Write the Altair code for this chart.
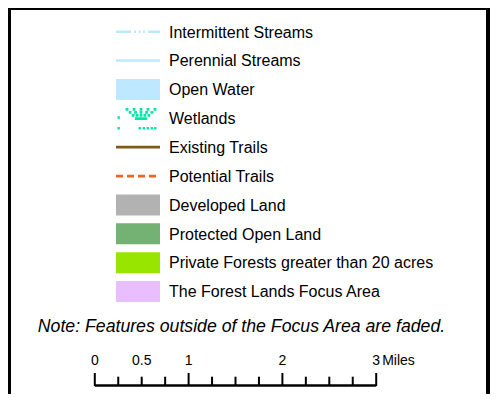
import altair as alt
import pandas as pd

# ---- data ----
labels = [
    "Intermittent Streams",
    "Perennial Streams",
    "Open Water",
    "Wetlands",
    "Existing Trails",
    "Potential Trails",
    "Developed Land",
    "Protected Open Land",
    "Private Forests greater than 20 acres",
    "The Forest Lands Focus Area",
]
kinds = ["dashdot", "line", "patch", "wetland", "line", "dash",
         "patch", "patch", "patch", "patch"]
colors = ["#BEE8FF", "#BEE8FF", "#BEE8FF", "#00E6A9", "#7F5A17", "#F0641E",
          "#B2B2B2", "#74B274", "#98E600", "#E8BEFF"]
note = "Note: Features outside of the Focus Area are faded."
scale_ticks = [0, 0.25, 0.5, 0.75, 1, 1.25, 1.5, 1.75, 2, 2.25, 2.5, 2.75, 3]
major_ticks = [0, 1, 2, 3]
scale_labels = ["0", "0.5", "1", "2", "3"]
scale_label_pos = [0, 0.5, 1, 2, 3]
unit = "Miles"

FONT = "Liberation Sans, Arial, Helvetica"

df = pd.DataFrame({"label": labels, "kind": kinds, "color": colors})

yscale = alt.Scale(type="point", domain=labels, range=[23.7, 283.5], padding=0)
Y = alt.Y("label:N", scale=yscale, axis=None)
COL = alt.Color("color:N", scale=None, legend=None)

SX0, SX1 = 108, 152   # symbol extent
SCX = 130             # symbol centre
R = 22.0              # half symbol width (custom-shape unit)


def sq(px, py, s=2.8):
    x = px / R
    y = py / R
    d = s / R
    return f"M{x:.3f},{y:.3f}h{d:.3f}v{d:.3f}h{-d:.3f}z"


# patch rectangle shape (44 x 21)
patch_path = "M-1,-0.477H1V0.477H-1Z"

# wetland tuft shape: dotted rays converging to a base point, plus stray dots
wet_parts = []
base = (3.0, 5.0)
tops = [(-11.0, -9.0), (-4.0, -9.0), (3.0, -9.0), (10.0, -9.0), (17.0, -9.0)]
for tx, ty in tops:
    for t in (0.0, 0.22, 0.44, 0.66):
        wet_parts.append(sq(tx + (base[0] - tx) * t - 1.4, ty + (base[1] - ty) * t - 1.4))
for bx in (2.0, 6.0, 10.0, 14.0, 17.5):
    wet_parts.append(sq(bx - 1.4, 8.8, 2.4))
wet_parts.append(sq(-20.5, -2.0, 2.4))
wet_parts.append(sq(-20.5, 8.8, 2.4))
wet_path = "".join(wet_parts)

base_df = alt.Chart(df)

patches = base_df.transform_filter(alt.datum.kind == "patch").mark_point(
    shape=patch_path, filled=True, size=(2 * R) ** 2, opacity=1, strokeWidth=0
).encode(x=alt.value(SCX), y=Y, color=COL)

wetland = base_df.transform_filter(alt.datum.kind == "wetland").mark_point(
    shape=wet_path, filled=True, size=(2 * R) ** 2, opacity=1, strokeWidth=0
).encode(x=alt.value(SCX), y=Y, color=COL)

solid = base_df.transform_filter(alt.datum.kind == "line").mark_rule(
    strokeWidth=2.6
).encode(x=alt.value(SX0), x2=alt.value(SX1), y=Y, color=COL)

dashdot = base_df.transform_filter(alt.datum.kind == "dashdot").mark_rule(
    strokeWidth=2.6, strokeDash=[15, 3, 2, 2.5, 2, 2.5, 2, 3]
).encode(x=alt.value(SX0), x2=alt.value(SX1), y=Y, color=COL)

dashed = base_df.transform_filter(alt.datum.kind == "dash").mark_rule(
    strokeWidth=2.8, strokeDash=[7, 4]
).encode(x=alt.value(SX0), x2=alt.value(SX1), y=Y, color=COL)

texts = base_df.mark_text(
    align="left", baseline="alphabetic", dy=5.8, font=FONT, fontSize=16, color="#000000"
).encode(x=alt.value(161), y=Y, text="label:N")

note_layer = alt.Chart(pd.DataFrame({"t": [note]})).mark_text(
    align="center", baseline="alphabetic", font=FONT, fontSize=17.7,
    fontStyle="italic", color="#000000"
).encode(x=alt.value(233.5), y=alt.value(323.5), text="t:N")

# ---- scale bar ----
xs = alt.Scale(domain=[0, 3], range=[86.8, 368.2])
bar_df = pd.DataFrame({"a": [scale_ticks[0]], "b": [scale_ticks[-1]]})
bar = alt.Chart(bar_df).mark_rule(strokeWidth=2.3, color="#000000").encode(
    x=alt.X("a:Q", scale=xs, axis=None), x2="b:Q", y=alt.value(377.5)
)
minor = alt.Chart(pd.DataFrame({"v": [v for v in scale_ticks if v not in major_ticks]})).mark_rule(
    strokeWidth=2, color="#000000"
).encode(x=alt.X("v:Q", scale=xs, axis=None), y=alt.value(368.7), y2=alt.value(378))
major = alt.Chart(pd.DataFrame({"v": major_ticks})).mark_rule(
    strokeWidth=2, color="#000000"
).encode(x=alt.X("v:Q", scale=xs, axis=None), y=alt.value(365), y2=alt.value(378))
slabels = alt.Chart(pd.DataFrame({"v": scale_label_pos, "t": scale_labels})).mark_text(
    align="center", baseline="alphabetic", font=FONT, fontSize=14, color="#000000"
).encode(x=alt.X("v:Q", scale=xs, axis=None), y=alt.value(357), text="t:N")
sunit = alt.Chart(pd.DataFrame({"v": [scale_label_pos[-1]], "t": [unit]})).mark_text(
    align="left", baseline="alphabetic", dx=6, font=FONT, fontSize=14, color="#000000"
).encode(x=alt.X("v:Q", scale=xs, axis=None), y=alt.value(357), text="t:N")

# ---- frame ----
frame_df = pd.DataFrame({"k": [0]})
left_border = alt.Chart(frame_df).mark_rule(strokeWidth=3, color="#000000").encode(
    x=alt.value(1.5), y=alt.value(0), y2=alt.value(386)
)
top_border = alt.Chart(frame_df).mark_rule(strokeWidth=2, color="#000000").encode(
    x=alt.value(0), x2=alt.value(482), y=alt.value(1)
)
right_border = alt.Chart(frame_df).mark_rule(strokeWidth=4, color="#000000").encode(
    x=alt.value(480), y=alt.value(0), y2=alt.value(386)
)

chart = alt.layer(
    patches, wetland, solid, dashdot, dashed, texts, note_layer,
    bar, minor, major, slabels, sunit,
    left_border, top_border, right_border,
).properties(
    width=482, height=386, padding=0,
    autosize=alt.AutoSizeParams(type="none"),
).configure_view(stroke=None).configure(background="#FFFFFF")

chart.save("out.html", embed_options={"renderer": "svg", "actions": False})
